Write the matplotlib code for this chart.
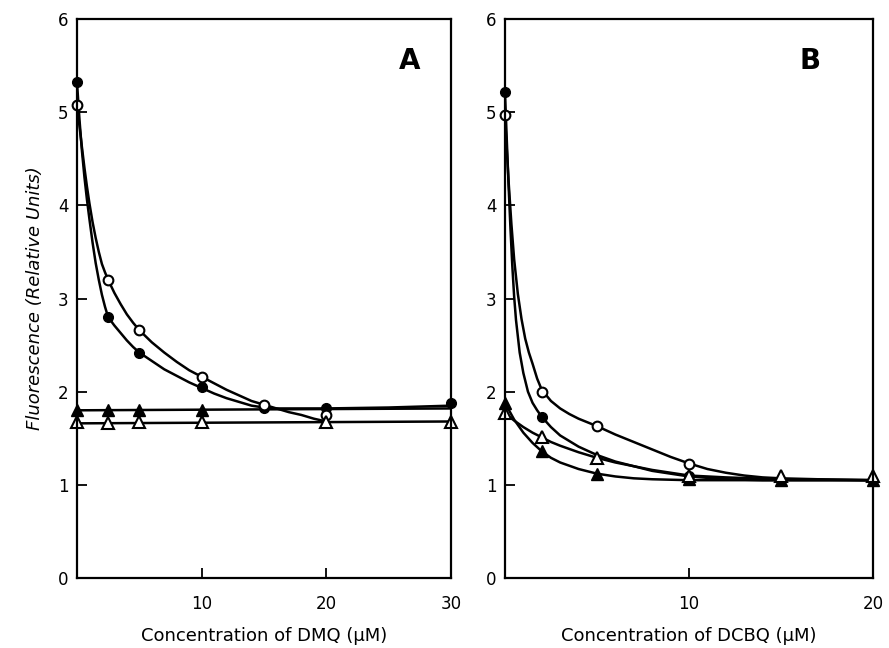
import numpy as np
import matplotlib.pyplot as plt

# ---- panel A: DMQ (uM) ----
a_x_circ = [0, 2.5, 5, 10, 15, 20, 30]
a_filled_circ = [5.32, 2.80, 2.42, 2.05, 1.82, 1.83, 1.88]
a_x_open = [0, 2.5, 5, 10, 15, 20]
a_open_circ = [5.08, 3.20, 2.66, 2.16, 1.86, 1.75]
a_x_tri = [0, 2.5, 5, 10]
a_filled_tri = [1.80, 1.80, 1.80, 1.80]
a_x_otri = [0, 2.5, 5, 10, 20, 30]
a_open_tri = [1.67, 1.66, 1.67, 1.67, 1.67, 1.67]

# fitted curves
a_cx_filled = [0, 0.2, 0.4, 0.6, 0.8, 1.0, 1.25, 1.5, 1.75, 2.0, 2.25, 2.5, 3, 3.5, 4,
               4.5, 5, 6, 7, 8, 9, 10, 11, 12, 13, 14, 15, 16, 18, 20, 25, 30]
a_cy_filled = [5.32, 4.92, 4.58, 4.3, 4.06, 3.85, 3.6, 3.38, 3.2, 3.04, 2.91, 2.8, 2.71,
               2.63, 2.55, 2.48, 2.42, 2.33, 2.24, 2.17, 2.1, 2.04, 1.98, 1.93, 1.89,
               1.85, 1.83, 1.82, 1.82, 1.82, 1.83, 1.85]
a_cx_open = [0, 0.2, 0.4, 0.6, 0.8, 1.0, 1.25, 1.5, 1.75, 2.0, 2.25, 2.5, 3, 3.5, 4, 4.5,
             5, 6, 7, 8, 9, 10, 11, 12, 13, 14, 15, 16, 17, 18, 19, 20]
a_cy_open = [5.08, 4.85, 4.62, 4.4, 4.2, 4.02, 3.82, 3.65, 3.5, 3.37, 3.28, 3.2, 3.06,
             2.94, 2.83, 2.74, 2.66, 2.53, 2.42, 2.32, 2.23, 2.16, 2.09, 2.02, 1.96,
             1.9, 1.86, 1.82, 1.78, 1.75, 1.71, 1.68]
a_cx_tri = [0, 30]
a_cy_tri = [1.80, 1.82]
a_cx_otri = [0, 30]
a_cy_otri = [1.66, 1.68]

# ---- panel B: DCBQ (uM) ----
b_x = [0, 2, 5, 10, 15, 20]
b_x_circ = [0, 2, 10]
b_filled_circ = [5.22, 1.73, 1.10]
b_x_open = [0, 2, 5, 10]
b_open_circ = [4.97, 2.00, 1.63, 1.22]
b_open_tri = [1.77, 1.51, 1.29, 1.10, 1.10, 1.10]
b_filled_tri = [1.88, 1.36, 1.12, 1.06, 1.05, 1.05]

b_cx_filled = [0, 0.1, 0.2, 0.3, 0.4, 0.5, 0.6, 0.8, 1.0, 1.25, 1.5, 1.75, 2, 2.5, 3, 4,
               5, 6, 7, 8, 9, 10, 12, 14, 20]
b_cy_filled = [5.22, 4.7, 4.2, 3.75, 3.35, 3.02, 2.77, 2.42, 2.2, 2.0, 1.88, 1.8, 1.73,
               1.62, 1.53, 1.41, 1.32, 1.25, 1.2, 1.15, 1.12, 1.09, 1.06, 1.05, 1.05]
b_cx_open = [0, 0.1, 0.2, 0.35, 0.5, 0.7, 0.9, 1.1, 1.3, 1.5, 1.75, 2, 2.5, 3, 3.5, 4, 5,
             6, 7, 8, 9, 10, 11, 12, 13, 14, 15, 17, 20]
b_cy_open = [4.97, 4.6, 4.25, 3.8, 3.42, 3.05, 2.78, 2.57, 2.42, 2.3, 2.14, 2.02, 1.9,
             1.82, 1.76, 1.71, 1.63, 1.54, 1.46, 1.38, 1.3, 1.23, 1.17, 1.13, 1.1, 1.08,
             1.07, 1.06, 1.05]
b_cx_otri = [0, 0.5, 1, 1.5, 2, 2.5, 3, 4, 5, 6, 7, 8, 9, 10, 12, 15, 20]
b_cy_otri = [1.77, 1.69, 1.62, 1.56, 1.51, 1.46, 1.42, 1.35, 1.29, 1.24, 1.2, 1.16, 1.13,
             1.1, 1.08, 1.06, 1.05]
b_cx_tri = [0, 0.5, 1, 1.5, 2, 2.5, 3, 4, 5, 6, 7, 8, 10, 20]
b_cy_tri = [1.88, 1.7, 1.56, 1.45, 1.36, 1.29, 1.24, 1.17, 1.12, 1.09, 1.07, 1.06, 1.05, 1.05]

plt.rcParams['font.family'] = ['DejaVu Sans']

fig = plt.figure(figsize=(8.89, 6.48), dpi=100)
axA = fig.add_axes([0.0866, 0.108, 0.4207, 0.8627])
axB = fig.add_axes([0.568, 0.108, 0.414, 0.8627])

lw = 1.8
ms = 7
line_kw = dict(color='k', lw=lw, solid_joinstyle='round', solid_capstyle='round')

def style(ax, xmax, xticks):
    ax.set_xlim(0, xmax)
    ax.set_ylim(0, 6)
    ax.set_xticks(xticks)
    ax.set_yticks(range(7))
    ax.tick_params(direction='in', length=7, width=1.3, labelsize=12,
                   top=False, right=False)
    ax.tick_params(axis='x', pad=12)
    ax.tick_params(axis='y', pad=6)
    for s in ax.spines.values():
        s.set_linewidth(1.6)

# panel A
axA.plot(a_cx_filled, a_cy_filled, **line_kw)
axA.plot(a_cx_open, a_cy_open, **line_kw)
axA.plot(a_cx_tri, a_cy_tri, **line_kw)
axA.plot(a_cx_otri, a_cy_otri, **line_kw)
axA.plot(a_x_circ, a_filled_circ, 'ko', ms=ms, clip_on=False)
axA.plot(a_x_open, a_open_circ, 'o', mfc='white', mec='k', mew=1.5, ms=ms, clip_on=False)
axA.plot(a_x_tri, a_filled_tri, 'k^', ms=ms + 1, clip_on=False)
axA.plot(a_x_otri, a_open_tri, '^', mfc='white', mec='k', mew=1.5, ms=ms + 1, clip_on=False)
style(axA, 30, [10, 20, 30])
axA.text(0.86, 0.91, 'A', transform=axA.transAxes, fontsize=20, fontweight='bold')
axA.set_xlabel('Concentration of DMQ (μM)', fontsize=13, labelpad=10)
axA.set_ylabel('Fluorescence (Relative Units)', fontsize=13, style='italic', labelpad=10)

# panel B
axB.plot(b_cx_filled, b_cy_filled, **line_kw)
axB.plot(b_cx_open, b_cy_open, **line_kw)
axB.plot(b_cx_otri, b_cy_otri, **line_kw)
axB.plot(b_cx_tri, b_cy_tri, **line_kw)
axB.plot(b_x_circ, b_filled_circ, 'ko', ms=ms, clip_on=False)
axB.plot(b_x_open, b_open_circ, 'o', mfc='white', mec='k', mew=1.5, ms=ms, clip_on=False)
axB.plot(b_x, b_filled_tri, 'k^', ms=ms + 1, clip_on=False)
axB.plot(b_x, b_open_tri, '^', mfc='white', mec='k', mew=1.5, ms=ms + 1, clip_on=False)
style(axB, 20, [10, 20])
axB.text(0.8, 0.91, 'B', transform=axB.transAxes, fontsize=20, fontweight='bold')
axB.set_xlabel('Concentration of DCBQ (μM)', fontsize=13, labelpad=10)

fig.savefig('out.png', dpi=100)
